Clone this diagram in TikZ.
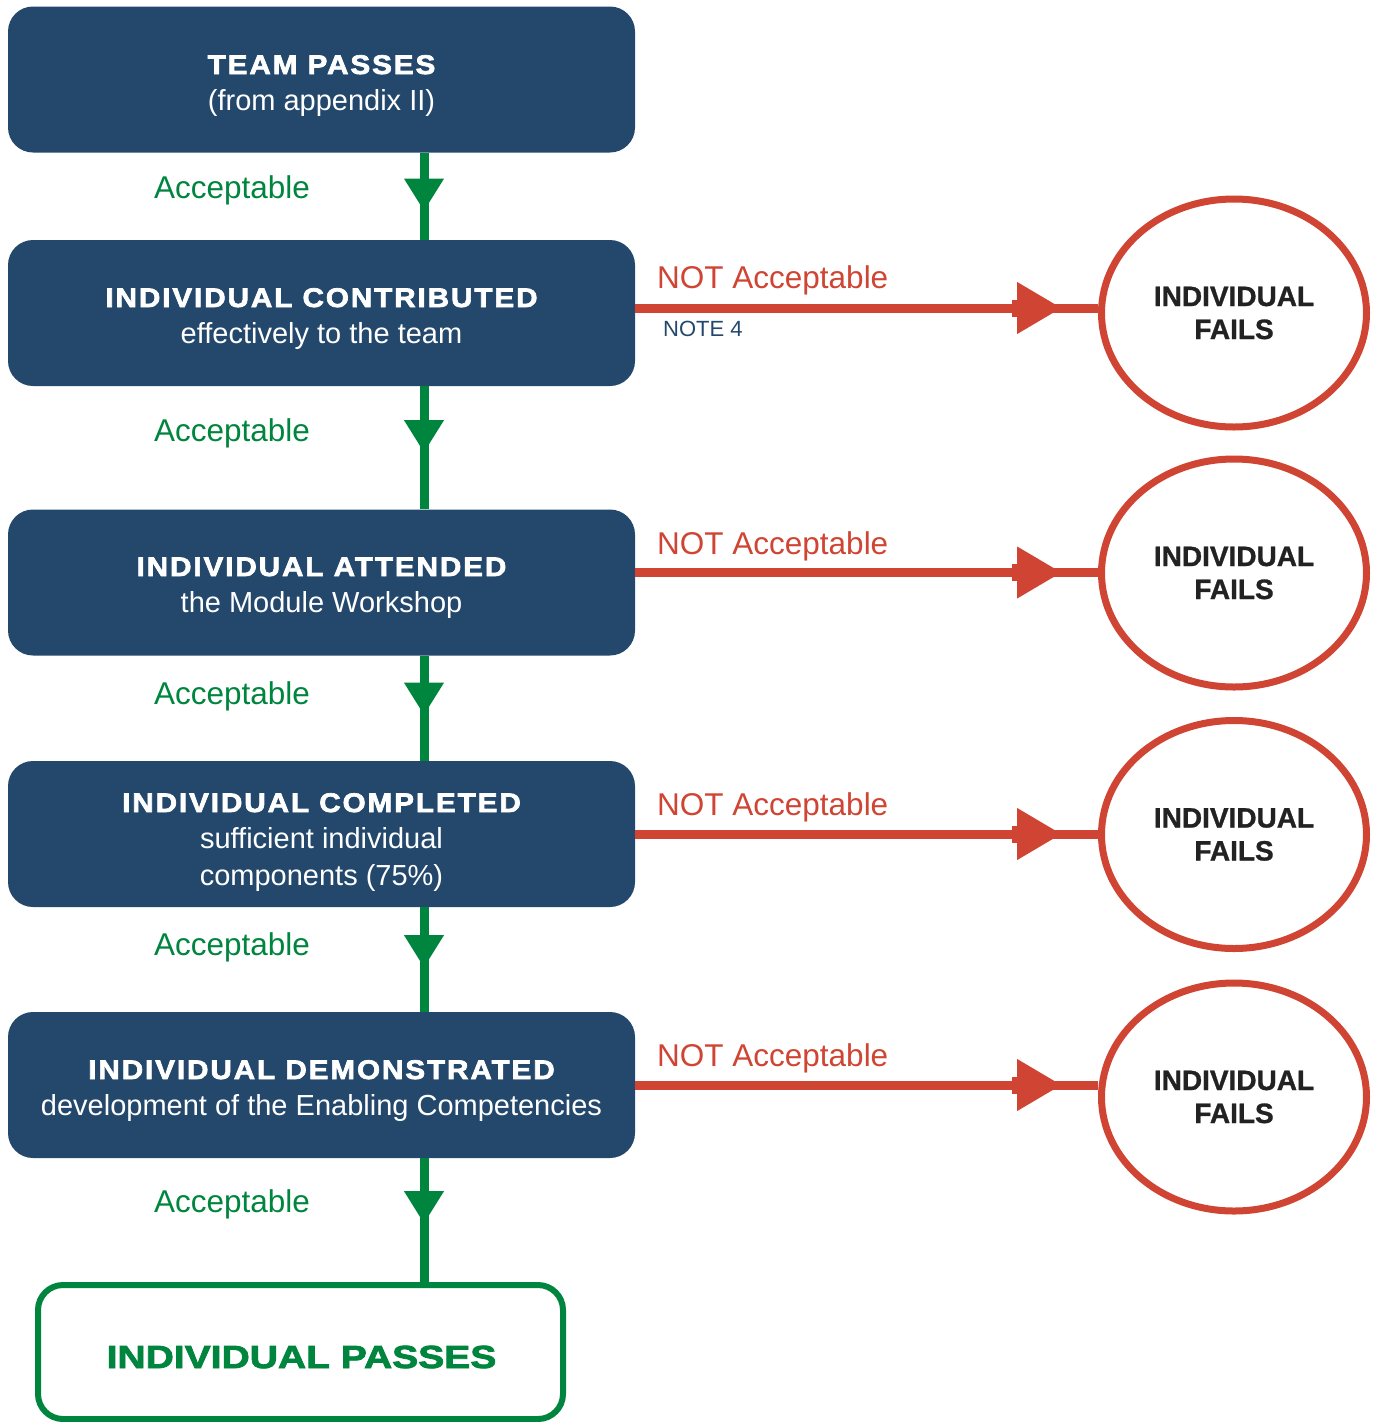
\documentclass[tikz,border=0pt]{standalone}
\usepackage{fontspec}
\setmainfont{Liberation Sans}
\newfontfamily\titlef[FakeStretch=1.1,LetterSpace=7,FakeBold=2.5]{Liberation Sans}
\newfontfamily\passf[FakeStretch=1.22,FakeBold=2.5]{Liberation Sans}
\newfontfamily\failf[FakeBold=1]{Liberation Sans}
\usetikzlibrary{arrows.meta,shapes.geometric}
\definecolor{boxblue}{RGB}{35,72,108}
\definecolor{okgreen}{RGB}{0,133,62}
\definecolor{nored}{RGB}{207,68,50}
\definecolor{failtext}{RGB}{34,34,34}
\begin{document}
\begin{tikzpicture}[x=1pt,y=-1pt,
  stepbox/.style={draw=none, fill=boxblue, rounded corners=25pt, minimum width=627pt, minimum height=146pt, inner sep=0pt},
  passbox/.style={draw=okgreen, line width=6pt, fill=white, rounded corners=25pt, minimum width=525pt, minimum height=134pt, inner sep=0pt},
  failnode/.style={ellipse, draw=nored, line width=7pt, minimum width=265pt, minimum height=228pt, inner sep=0pt, align=center, text=failtext, font=\failf\bfseries\fontsize{28}{33}\selectfont},
  ttl/.style={anchor=base, text=white, inner sep=0pt, font=\titlef\bfseries\fontsize{27}{30}\selectfont},
  sub/.style={anchor=base, text=white, inner sep=0pt, font=\fontsize{29}{34}\selectfont},
  acc/.style={anchor=base, text=okgreen, inner sep=0pt, font=\fontsize{31.5}{36}\selectfont},
  nacc/.style={anchor=base west, text=nored, inner sep=0pt, font=\fontsize{31.5}{36}\selectfont},
  gline/.style={draw=okgreen, line width=9pt},
  rline/.style={draw=nored, line width=9pt},
  ghead/.style={gline, -{Triangle[length=32pt,width=40pt,line width=0pt]}},
  rhead/.style={rline, -{Triangle[length=44pt,width=52pt,line width=0pt]}}
]
\useasboundingbox (0,0) rectangle (1376,1422);

% step boxes
\node[stepbox] (b1) at (321.5,79.5) {};
\node[stepbox] (b2) at (321.5,313) {};
\node[stepbox] (b3) at (321.5,582.5) {};
\node[stepbox] (b4) at (321.5,834) {};
\node[stepbox] (b5) at (321.5,1085) {};
\node[passbox] (pass) at (300.5,1352) {};

% box texts
\node[ttl] (t1) at (321.5,74) {TEAM PASSES};
\node[sub] (s1) at (321.5,110) {(from appendix II)};
\node[ttl] (t2) at (321.5,307) {INDIVIDUAL CONTRIBUTED};
\node[sub] (s2) at (321.5,343) {effectively to the team};
\node[ttl] (t3) at (321.5,576) {INDIVIDUAL ATTENDED};
\node[sub] (s3) at (321.5,612) {the Module Workshop};
\node[ttl] (t4) at (321.5,812) {INDIVIDUAL COMPLETED};
\node[sub] (s4a) at (321.5,848) {sufficient individual};
\node[sub] (s4b) at (321.5,885) {components (75\%)};
\node[ttl] (t5) at (321.5,1079) {INDIVIDUAL DEMONSTRATED};
\node[sub] (s5) at (321.5,1115) {development of the Enabling Competencies};
\node[anchor=base, text=okgreen, inner sep=0pt, font=\passf\bfseries\fontsize{32}{36}\selectfont] (tp) at (301.5,1368) {INDIVIDUAL PASSES};

% fail ellipses
\node[failnode] (e1) at (1234,313) {INDIVIDUAL\\FAILS};
\node[failnode] (e2) at (1234,573) {INDIVIDUAL\\FAILS};
\node[failnode] (e3) at (1234,834.5) {INDIVIDUAL\\FAILS};
\node[failnode] (e4) at (1234,1097) {INDIVIDUAL\\FAILS};

% green connectors
\coordinate (gx) at (424,0);
\draw[gline] (b1.south -| gx) -- (b2.north -| gx);
\draw[ghead] (b1.south -| gx) -- ++(0,58);
\draw[gline] (b2.south -| gx) -- (b3.north -| gx);
\draw[ghead] (b2.south -| gx) -- ++(0,66);
\draw[gline] (b3.south -| gx) -- (b4.north -| gx);
\draw[ghead] (b3.south -| gx) -- ++(0,59);
\draw[gline] (b4.south -| gx) -- (b5.north -| gx);
\draw[ghead] (b4.south -| gx) -- ++(0,60);
\draw[gline] (b5.south -| gx) -- (pass.north -| gx);
\draw[ghead] (b5.south -| gx) -- ++(0,65);

% red connectors
\coordinate (r1) at ([yshift=5pt]b2.east);
\coordinate (r2) at ([yshift=10pt]b3.east);
\coordinate (r3) at (b4.east);
\coordinate (r4) at (b5.east);
\foreach \r/\e in {r1/e1,r2/e2,r3/e3,r4/e4}{
  \draw[rline] (\r) -- (\e.west |- \r);
  \fill[nored] ([xshift=377pt,yshift=-8.5pt]\r) rectangle ([xshift=384pt,yshift=8.5pt]\r);
  \draw[rhead] (\r) -- ++(426,0);
}

% labels
\node[acc] (a1) at (232,198) {Acceptable};
\node[acc] (a2) at (232,441) {Acceptable};
\node[acc] (a3) at (232,704) {Acceptable};
\node[acc] (a4) at (232,955) {Acceptable};
\node[acc] (a5) at (232,1212) {Acceptable};
\node[nacc] (n1) at (657,288) {NOT Acceptable};
\node[nacc] (n2) at (657,554) {NOT Acceptable};
\node[nacc] (n3) at (657,815) {NOT Acceptable};
\node[nacc] (n4) at (657,1066) {NOT Acceptable};
\node[anchor=base west, text=boxblue, inner sep=0pt, font=\fontsize{22}{26}\selectfont] (note) at (663,336) {NOTE 4};
\end{tikzpicture}
\end{document}
